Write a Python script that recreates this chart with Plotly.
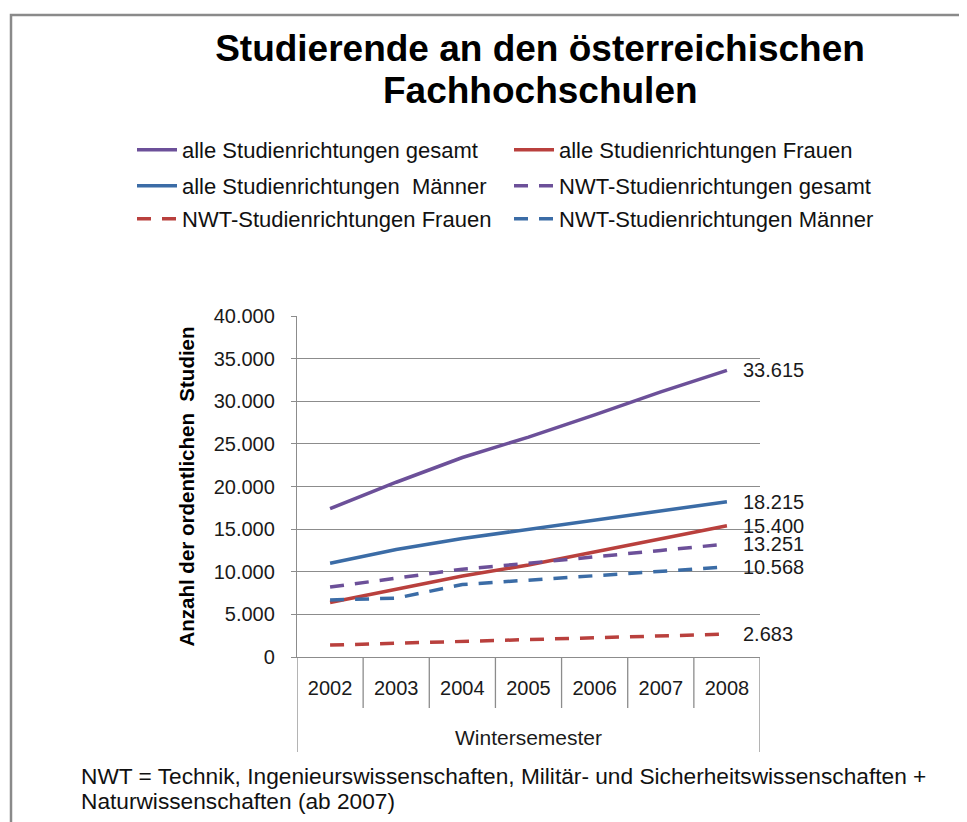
import plotly.graph_objects as go

years = ["2002", "2003", "2004", "2005", "2006", "2007", "2008"]
alle_gesamt = [17400, 20500, 23400, 25800, 28400, 31100, 33615]
alle_frauen = [6400, 7900, 9500, 10800, 12300, 13900, 15400]
alle_maenner = [11000, 12600, 13900, 15000, 16100, 17200, 18215]
nwt_gesamt = [8200, 9200, 10300, 11000, 11700, 12500, 13251]
nwt_frauen = [1400, 1600, 1800, 2000, 2200, 2500, 2683]
nwt_maenner = [6700, 6900, 8500, 9000, 9500, 10000, 10568]

names = [
    "alle Studienrichtungen gesamt",
    "alle Studienrichtungen Frauen",
    "alle Studienrichtungen\u00a0 Männer",
    "NWT-Studienrichtungen gesamt",
    "NWT-Studienrichtungen Frauen",
    "NWT-Studienrichtungen Männer",
]

PURPLE = "#6C5099"
RED = "#B9403D"
BLUE = "#3B6CA6"
FONT = "Liberation Sans, Arial, sans-serif"
DASH = "14px,11px"

series = [
    (alle_gesamt, names[0], PURPLE, "solid", "legend"),
    (alle_frauen, names[1], RED, "solid", "legend"),
    (alle_maenner, names[2], BLUE, "solid", "legend2"),
    (nwt_gesamt, names[3], PURPLE, DASH, "legend2"),
    (nwt_frauen, names[4], RED, DASH, "legend3"),
    (nwt_maenner, names[5], BLUE, DASH, "legend3"),
]

fig = go.Figure()
for vals, nm, col, dash, lg in series:
    fig.add_trace(go.Scatter(
        x=years, y=vals, name=nm, mode="lines",
        line=dict(color=col, width=3.5, dash=dash),
        legend=lg,
    ))

# page offset (default body margin of the html page)
OFF = 8
PW, PH = 967, 822
W, H = PW - OFF, PH - OFF
# plot area in page pixels
L, R, T, B = 297, 760, 316, 657
pw, ph = R - L, B - T


def px(x):
    return (x - L) / pw


def py(y):
    return (B - y) / ph


# data labels on last point
last = len(years) - 1
for vals, nm, col, dash, lg in series:
    v = vals[-1]
    fig.add_annotation(
        x=last, y=v, xref="x", yref="y",
        text=f"{v:,}".replace(",", "."),
        showarrow=False, xanchor="left", yanchor="middle", xshift=14,
        font=dict(family=FONT, size=20, color="#1a1a1a"),
    )

# category dividers of the x axis
for i in range(len(years) + 1):
    outer = i == 0 or i == len(years)
    fig.add_shape(type="line", xref="x", yref="paper",
                  x0=i - 0.5, x1=i - 0.5, y0=0, y1=py(752 if outer else 708),
                  line=dict(color="#8c8c8c", width=1.3))

# outer frame (top and left)
fig.add_shape(type="path", xref="paper", yref="paper",
              path=f"M {px(11)},{py(840)} L {px(11)},{py(15)} L {px(990)},{py(15)}",
              line=dict(color="#8a8a8a", width=2.5))

# title second line
fig.add_annotation(
    xref="paper", yref="paper", x=px(540), y=py(91), xanchor="center", yanchor="middle",
    showarrow=False, text="<b>Fachhochschulen</b>",
    font=dict(family=FONT, size=37, color="#000"),
)

# footnote
foot = ["NWT = Technik, Ingenieurswissenschaften, Militär- und Sicherheitswissenschaften +",
        "Naturwissenschaften (ab 2007)"]
for txt, yy in zip(foot, [776, 801]):
    fig.add_annotation(
        xref="paper", yref="paper", x=px(79), y=py(yy), xanchor="left", yanchor="middle",
        align="left", showarrow=False, text=txt,
        font=dict(family=FONT, size=22.7, color="#111"),
    )

legend_common = dict(
    orientation="h", xanchor="left", yanchor="middle",
    font=dict(family=FONT, size=22, color="#111"),
    entrywidth=322, entrywidthmode="pixels", itemwidth=40,
    bgcolor="rgba(0,0,0,0)", borderwidth=0,
)

fig.update_layout(
    width=W, height=H,
    margin=dict(l=L - OFF, r=PW - R, t=T - OFF, b=PH - B, autoexpand=False),
    paper_bgcolor="white", plot_bgcolor="white",
    separators=",.",
    showlegend=True,
    title=dict(
        text="<b>Studierende an den österreichischen</b>",
        x=(540 - OFF) / W, xanchor="center", xref="container",
        y=1 - 40 / H, yanchor="middle", yref="container",
        font=dict(family=FONT, size=37, color="#000"),
    ),
    legend=dict(x=px(132), y=py(150), **legend_common),
    legend2=dict(x=px(132), y=py(186), **legend_common),
    legend3=dict(x=px(132), y=py(219), **legend_common),
    xaxis=dict(
        type="category", showgrid=False, ticks="", showline=True,
        linecolor="#8c8c8c", linewidth=1.3, range=[-0.5, 6.5],
        tickfont=dict(family=FONT, size=20, color="#1a1a1a"),
        ticklabelstandoff=13,
        title=dict(text="Wintersemester", standoff=32,
                   font=dict(family=FONT, size=21, color="#1a1a1a")),
    ),
    yaxis=dict(
        range=[0, 40000], dtick=5000, tickformat=",d",
        showgrid=True, gridcolor="#8c8c8c", gridwidth=1,
        showline=True, linecolor="#8c8c8c", linewidth=1.3,
        ticks="outside", ticklen=5, tickcolor="#8c8c8c",
        ticklabelstandoff=12, zeroline=False,
        tickfont=dict(family=FONT, size=20, color="#1a1a1a"),
        title=dict(text="<b>Anzahl der ordentlichen\u00a0 Studien</b>", standoff=13,
                   font=dict(family=FONT, size=20.5, color="#000")),
    ),
)

fig.write_html("out.html")
